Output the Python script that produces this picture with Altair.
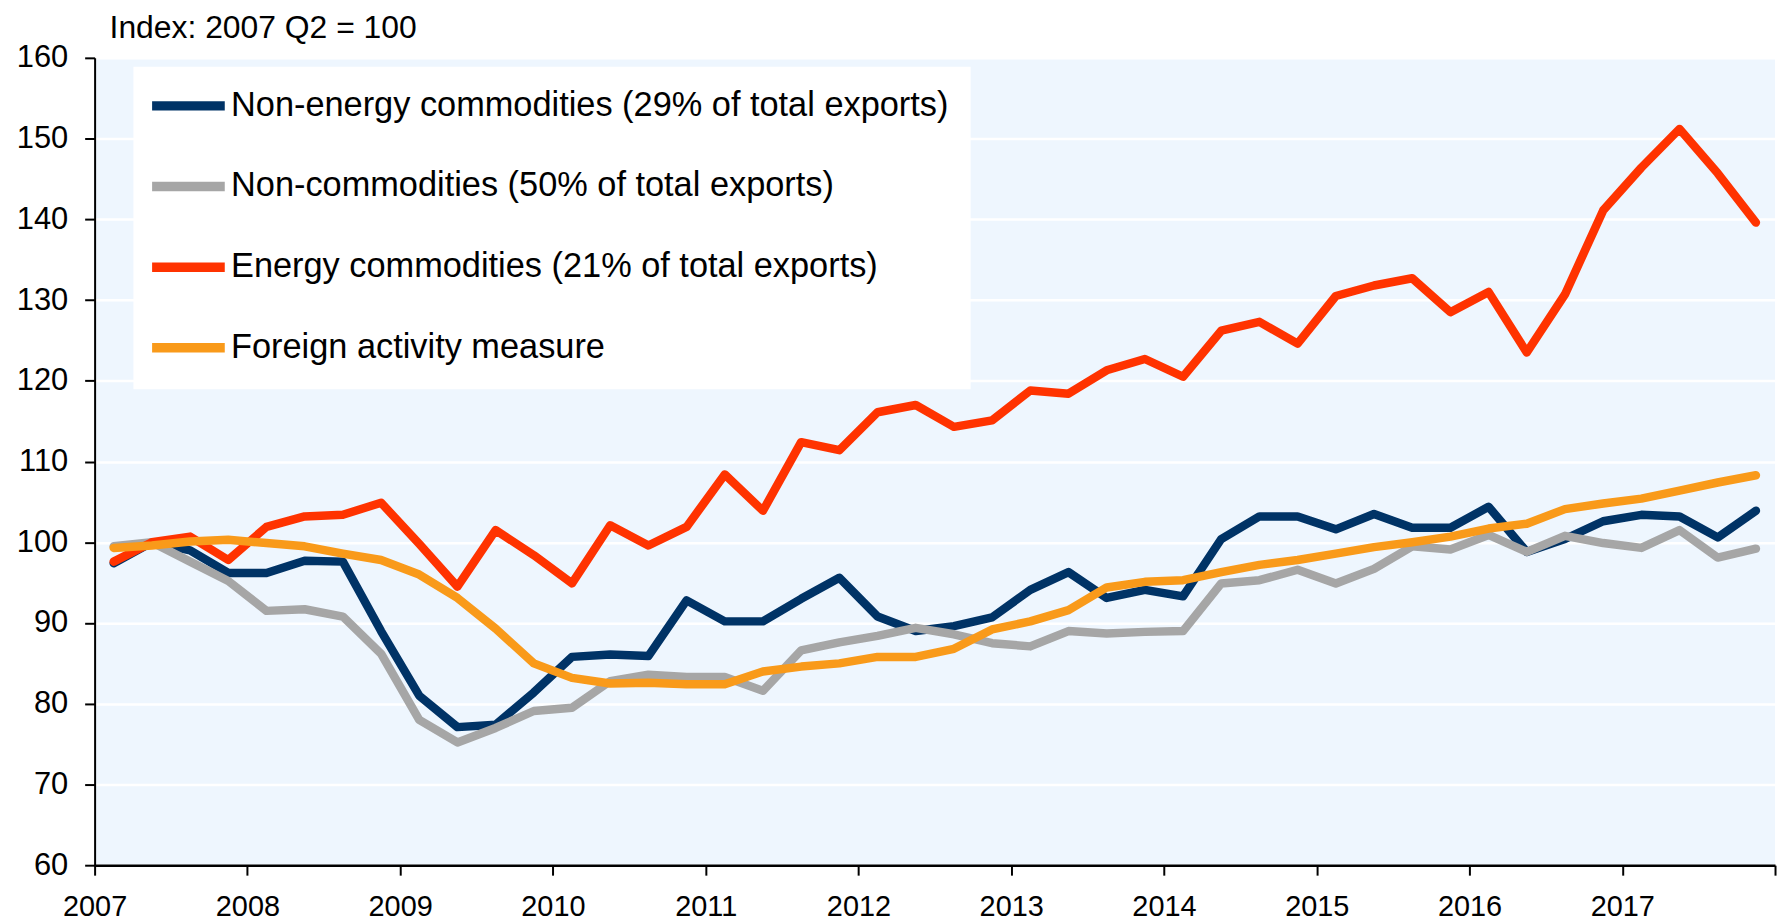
import altair as alt
import pandas as pd

# ---- data ----
years = list(range(2007, 2018))
quarters = [f"{y} Q{q}" for y in years for q in range(1, 5)]

series_names = [
    "Non-energy commodities (29% of total exports)",
    "Non-commodities (50% of total exports)",
    "Energy commodities (21% of total exports)",
    "Foreign activity measure",
]
series_colors = ["#003366", "#A6A6A6", "#FF3300", "#F99A1A"]

non_energy = [97.4, 100.0, 99.0, 96.2, 96.2, 97.7, 97.6, 89.0, 81.0, 77.1, 77.4,
              81.4, 85.8, 86.1, 85.9, 92.8, 90.2, 90.2, 93.0, 95.6, 90.8, 89.0,
              89.6, 90.7, 94.1, 96.3, 93.1, 94.1, 93.3, 100.4, 103.2, 103.2, 101.6,
              103.5, 101.8, 101.8, 104.4, 98.8, 100.4, 102.6, 103.4, 103.2, 100.6, 103.9]
non_commodities = [99.5, 100.0, 97.6, 95.2, 91.5, 91.7, 90.8, 86.2, 78.0, 75.2, 77.0,
                   79.1, 79.5, 82.8, 83.6, 83.3, 83.3, 81.6, 86.6, 87.6, 88.4, 89.4,
                   88.6, 87.5, 87.1, 89.0, 88.7, 88.9, 89.0, 94.9, 95.3, 96.6, 94.9,
                   96.7, 99.5, 99.1, 100.9, 98.8, 100.8, 99.9, 99.3, 101.5, 98.1, 99.2]
energy = [97.6, 100.0, 100.7, 97.8, 101.9, 103.2, 103.4, 104.9, 99.8, 94.5, 101.5,
          98.4, 94.9, 102.1, 99.6, 101.9, 108.4, 103.9, 112.4, 111.4, 116.1, 117.0,
          114.3, 115.1, 118.8, 118.4, 121.3, 122.7, 120.5, 126.2, 127.3, 124.6, 130.5,
          131.8, 132.7, 128.5, 131.0, 123.5, 130.7, 141.1, 146.4, 151.2, 145.7, 139.6]
foreign_activity = [99.3, 99.6, 100.1, 100.3, 99.9, 99.5, 98.6, 97.8, 96.0, 93.1, 89.3,
                    85.0, 83.2, 82.5, 82.6, 82.4, 82.4, 84.0, 84.6, 85.0, 85.8, 85.8,
                    86.8, 89.2, 90.2, 91.6, 94.4, 95.1, 95.3, 96.3, 97.2, 97.8, 98.6,
                    99.4, 100.0, 100.7, 101.7, 102.3, 104.1, 104.8, 105.4, 106.4, 107.4, 108.3]

x_ticks = list(range(2007, 2019))
y_ticks = list(range(60, 161, 10))

# ---- build table ----
rows = []
for name, vals in zip(series_names, [non_energy, non_commodities, energy, foreign_activity]):
    for i, (qlab, v) in enumerate(zip(quarters, vals)):
        year = int(qlab[:4])
        q = int(qlab[-1])
        rows.append({"series": name, "quarter": qlab, "t": year + (q - 0.5) / 4, "value": v, "i": i})
df = pd.DataFrame(rows)

FONT = "Liberation Sans"

x_enc = alt.X(
    "t:Q",
    scale=alt.Scale(domain=[2007, 2018], nice=False, zero=False),
    axis=alt.Axis(
        values=x_ticks, format="d", title=None, grid=False,
        labelExpr="datum.value >= 2018 ? '' : datum.label",
        labelFlush=False, labelOverlap=False,
        tickSize=10, tickWidth=2, tickColor="black",
        domainColor="black", domainWidth=2.5,
        labelFontSize=29, labelPadding=18, labelColor="black", labelFont=FONT,
    ),
)
y_enc = alt.Y(
    "value:Q",
    scale=alt.Scale(domain=[60, 160], nice=False, zero=False),
    axis=alt.Axis(
        values=y_ticks, title=None, grid=True, gridColor="white", gridWidth=2.5,
        tickSize=10, tickWidth=2, tickColor="black",
        domainColor="black", domainWidth=2,
        labelFontSize=31, labelPadding=17, labelColor="black", labelFont=FONT,
    ),
)
color_enc = alt.Color(
    "series:N",
    sort=series_names,
    scale=alt.Scale(domain=series_names, range=series_colors),
    legend=alt.Legend(
        orient="none", legendX=39, legendY=9, title=None,
        fillColor="white", padding=22,
        symbolType="M-3,0H3", symbolSize=592, symbolStrokeWidth=9.5, symbolOffset=16,
        labelFontSize=34.5, labelOffset=25.5, labelLimit=1200, labelColor="black", labelFont=FONT,
        rowPadding=42,
    ),
)

layers = []
for name in series_names:
    layers.append(
        alt.Chart(df)
        .transform_filter(alt.datum.series == name)
        .mark_line(strokeWidth=8.5, strokeCap="round", strokeJoin="round")
        .encode(x=x_enc, y=y_enc, color=color_enc, order="i:Q")
    )

chart = (
    alt.layer(*layers)
    .properties(
        width=1688, height=811,
        autosize=alt.AutoSizeParams(type="none"),
        padding={"left": 87, "top": 48, "right": 4, "bottom": 57},
        title=alt.TitleParams(
            "Index: 2007 Q2 = 100", anchor="start", frame="group", fontSize=32, font=FONT,
            fontWeight="normal", color="black", dx=15, dy=4, offset=1,
        ),
    )
    .configure_view(fill="#EEF6FE", stroke=None)
)

chart.save("out.html", embed_options={"renderer": "svg", "actions": False})
